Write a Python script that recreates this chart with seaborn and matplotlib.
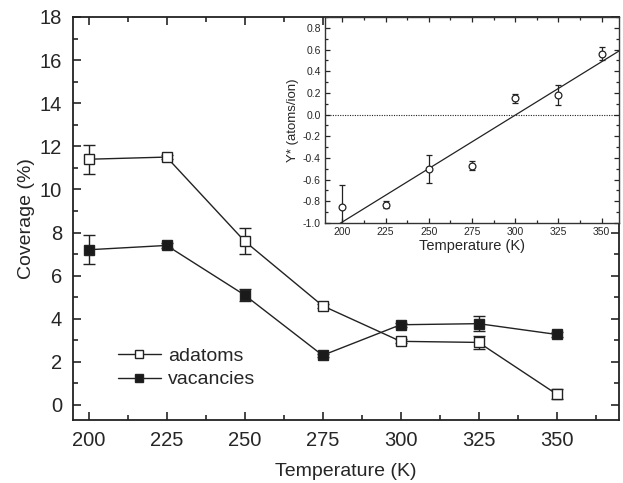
import numpy as np
import pandas as pd
import matplotlib
matplotlib.use("Agg")
import matplotlib.pyplot as plt
from matplotlib.ticker import MultipleLocator
from matplotlib.lines import Line2D
import seaborn as sns

sns.set_style("ticks")
plt.rcParams['font.family'] = ['Liberation Sans', 'DejaVu Sans']

# ---- data ----
temperature = [200, 225, 250, 275, 300, 325, 350]
adatoms = [11.4, 11.5, 7.6, 4.6, 2.95, 2.9, 0.5]
adatoms_err = [0.68, 0.1, 0.6, 0.08, 0.1, 0.3, 0.22]
vacancies = [7.2, 7.4, 5.1, 2.3, 3.72, 3.77, 3.27]
vacancies_err = [0.68, 0.1, 0.27, 0.08, 0.1, 0.35, 0.1]

inset_temperature = [200, 225, 250, 275, 300, 325, 350]
yield_star = [-0.85, -0.83, -0.50, -0.47, 0.15, 0.18, 0.56]
yield_err = [0.20, 0.03, 0.13, 0.04, 0.04, 0.095, 0.06]

df = pd.DataFrame({
    "T": temperature * 2,
    "cov": adatoms + vacancies,
    "err": adatoms_err + vacancies_err,
    "kind": ["adatoms"] * 7 + ["vacancies"] * 7,
})

fig = plt.figure(figsize=(6.23, 4.83), dpi=100)
ax = fig.add_axes([73/623, 1-420/483, (619-73)/623, (420-17)/483])

styles = {"adatoms": "white", "vacancies": "#1a1a1a"}
for kind, fc in styles.items():
    sub = df[df.kind == kind]
    ax.errorbar(sub["T"], sub["cov"], yerr=sub["err"], fmt="none",
                ecolor="#222222", elinewidth=1.0, capsize=4, capthick=1.0, zorder=2)
    sns.lineplot(data=sub, x="T", y="cov", ax=ax, color="#222222", lw=1.0,
                 marker="s", markersize=7, markerfacecolor=fc,
                 markeredgecolor="#222222", markeredgewidth=1.0, zorder=3,
                 legend=False)

ax.set_xlim(195, 370)
ax.set_ylim(-0.7, 18)
ax.xaxis.set_major_locator(MultipleLocator(25))
ax.xaxis.set_minor_locator(MultipleLocator(12.5))
ax.yaxis.set_major_locator(MultipleLocator(2))
ax.yaxis.set_minor_locator(MultipleLocator(1))
ax.tick_params(which="both", direction="in", top=True, right=True, width=1.2)
ax.tick_params(which="major", length=6, labelsize=14.5, pad=8)
ax.tick_params(which="minor", length=3.5)
for s in ax.spines.values():
    s.set_linewidth(1.3)
    s.set_color("#222222")
ax.set_xlabel("Temperature (K)", fontsize=14, labelpad=9)
ax.set_ylabel("Coverage (%)", fontsize=14, labelpad=3)

handles = [
    Line2D([], [], color="#222222", lw=1.0, marker="s", markersize=6,
           markerfacecolor="white", markeredgecolor="#222222"),
    Line2D([], [], color="#222222", lw=1.0, marker="s", markersize=6,
           markerfacecolor="#1a1a1a", markeredgecolor="#222222"),
]
ax.legend(handles, ["adatoms", "vacancies"], loc="lower left",
          bbox_to_anchor=(0.05, 0.035), frameon=False, fontsize=14,
          handlelength=2.2, handletextpad=0.4, labelspacing=0.3)

# ---- inset ----
ins = fig.add_axes([325/623, 1-223/483, (619-325)/623, (223-17)/483])
ins.set_facecolor("white")
ins.errorbar(inset_temperature, yield_star, yerr=yield_err, fmt="none",
             ecolor="#222222", elinewidth=0.9, capsize=2.5, capthick=0.9, zorder=2)
sns.scatterplot(x=inset_temperature, y=yield_star, ax=ins, marker="o", s=24,
                facecolor="white", edgecolor="#222222", linewidth=0.9, zorder=3)
coef = np.polyfit(inset_temperature, yield_star, 1)
xf = np.array([190, 360])
sns.lineplot(x=xf, y=np.polyval(coef, xf), ax=ins, color="#222222", lw=0.9)
ins.axhline(0, color="#222222", lw=0.8, ls=(0, (1, 1.2)))
ins.set_xlim(190, 360)
ins.set_ylim(-1.0, 0.9)
ins.xaxis.set_major_locator(MultipleLocator(25))
ins.xaxis.set_minor_locator(MultipleLocator(12.5))
ins.yaxis.set_major_locator(MultipleLocator(0.2))
ins.yaxis.set_minor_locator(MultipleLocator(0.1))
ins.yaxis.set_major_formatter(matplotlib.ticker.FormatStrFormatter("%.1f"))
ins.tick_params(which="both", direction="in", top=True, right=True, width=0.9)
ins.tick_params(which="major", length=3.5, labelsize=7.5, pad=3)
ins.tick_params(which="minor", length=2)
for s in ins.spines.values():
    s.set_linewidth(1.0)
    s.set_color("#333333")
ins.set_xlabel("Temperature (K)", fontsize=10.5, labelpad=1)
ins.set_ylabel("Y* (atoms/ion)", fontsize=9.5, labelpad=3)

fig.savefig("out.png", dpi=100)
